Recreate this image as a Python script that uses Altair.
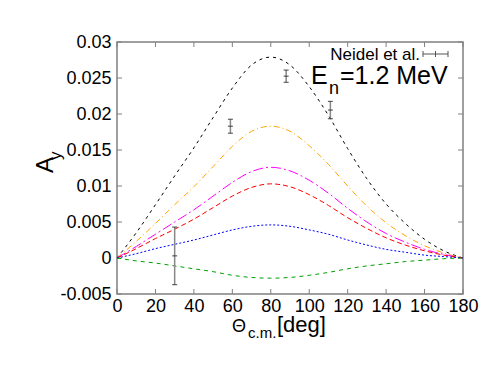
import altair as alt
import pandas as pd

FONT = "Liberation Sans"
FRAME = "#808080"

theta = list(range(0, 181, 10))
black = [0, .0035, .0074, .0114, .0153, .0195, .0236, .0268, .0279, .0268, .0238, .0198, .0152, .0110, .0075, .0048, .0026, .0010, 0]
orange = [0, .0023, .0048, .0074, .0099, .0127, .0155, .0176, .0183, .0176, .0156, .0130, .0100, .0072, .0049, .0031, .0017, .0007, 0]
magenta = [0, .0016, .0033, .0050, .0067, .0086, .0105, .0120, .0126, .0121, .0108, .0090, .0069, .0050, .0034, .0022, .0012, .0005, 0]
red = [0, .0013, .0027, .0040, .0054, .0070, .0086, .0098, .0103, .0099, .0088, .0073, .0056, .0041, .0028, .0018, .0010, .0004, 0]
blue = [0, .0006, .0013, .0019, .0025, .0032, .0039, .0044, .0046, .0044, .0039, .0033, .0025, .0018, .0012, .0008, .0004, .0002, 0]
green = [0, -.0004, -.0007, -.0011, -.0015, -.0019, -.0024, -.0027, -.0028, -.0027, -.0024, -.0020, -.0015, -.0011, -.0008, -.0005, -.0003, -.0001, 0]

exp_theta = [30, 59, 88, 111]
exp_ay = [0.0003, 0.0183, 0.02525, 0.02055]
exp_err = [0.0040, 0.00097, 0.00085, 0.0012]

x_ticks = list(range(0, 181, 20))
y_ticks = [-0.005, 0, 0.005, 0.01, 0.015, 0.02, 0.025, 0.03]

W, H = 346, 252

series = [("black", black, "#000000", [3, 4]),
          ("orange", orange, "#ffa500", [6, 3, 1, 3]),
          ("magenta", magenta, "#ff00ff", [10, 3, 2, 3]),
          ("red", red, "#ff0000", [5, 3]),
          ("blue", blue, "#0000ff", [2, 2]),
          ("green", green, "#00a000", [4, 4])]

rows = []
for name, vals, _, _ in series:
    for t, v in zip(theta, vals):
        rows.append({"theta": t, "ay": v, "model": name})
df = pd.DataFrame(rows)

names = [s[0] for s in series]
colors = [s[2] for s in series]
dashes = [s[3] for s in series]

xscale = alt.Scale(domain=[0, 180], nice=False, zero=False)
yscale = alt.Scale(domain=[-0.005, 0.03], nice=False, zero=False)

xaxis = alt.Axis(values=x_ticks, title=None, tickSize=0, domain=False, grid=False,
                 labelFont=FONT, labelFontSize=18, labelColor="black", labelPadding=3,
                 labelFlush=False)
yaxis = alt.Axis(values=y_ticks, title=None, tickSize=0, domain=False, grid=False,
                 labelFont=FONT, labelFontSize=18, labelColor="black", labelPadding=6,
                 labelExpr="replace(format(datum.value, '~g'), '\u2212', '-')")

lines = alt.Chart(df).mark_line(strokeWidth=1, interpolate="monotone").encode(
    x=alt.X("theta:Q", scale=xscale, axis=xaxis),
    y=alt.Y("ay:Q", scale=yscale, axis=yaxis),
    color=alt.Color("model:N", scale=alt.Scale(domain=names, range=colors), legend=None),
    strokeDash=alt.StrokeDash("model:N", scale=alt.Scale(domain=names, range=dashes), legend=None),
    detail="model:N",
)

exp = pd.DataFrame({"theta": exp_theta, "ay": exp_ay, "err": exp_err})
exp["lo"] = exp["ay"] - exp["err"]
exp["hi"] = exp["ay"] + exp["err"]

bars = alt.Chart(exp).mark_rule(color="#888888", strokeWidth=1.5).encode(
    x=alt.X("theta:Q", scale=xscale, axis=xaxis),
    y=alt.Y("lo:Q", scale=yscale, axis=yaxis),
    y2="hi:Q",
)
caps_df = pd.concat([
    exp[["theta", "lo"]].rename(columns={"lo": "v"}),
    exp[["theta", "hi"]].rename(columns={"hi": "v"}),
    exp[["theta", "ay"]].rename(columns={"ay": "v"}),
])
caps = alt.Chart(caps_df).mark_tick(orient="horizontal", size=5, thickness=1.2, color="#222222").encode(
    x=alt.X("theta:Q", scale=xscale, axis=xaxis),
    y=alt.Y("v:Q", scale=yscale, axis=yaxis),
)

xt = pd.DataFrame({"t": x_ticks})
yt = pd.DataFrame({"v": y_ticks})
tick_b = alt.Chart(xt).mark_rule(color=FRAME, strokeWidth=1).encode(
    x=alt.X("t:Q", scale=xscale, axis=xaxis), y=alt.value(H), y2=alt.value(H - 5))
tick_t = alt.Chart(xt).mark_rule(color=FRAME, strokeWidth=1).encode(
    x=alt.X("t:Q", scale=xscale, axis=xaxis), y=alt.value(0), y2=alt.value(5))
tick_l = alt.Chart(yt).mark_rule(color=FRAME, strokeWidth=1).encode(
    y=alt.Y("v:Q", scale=yscale, axis=yaxis), x=alt.value(0), x2=alt.value(5))
tick_r = alt.Chart(yt).mark_rule(color=FRAME, strokeWidth=1).encode(
    y=alt.Y("v:Q", scale=yscale, axis=yaxis), x=alt.value(W), x2=alt.value(W - 5))

dummy = pd.DataFrame({"a": [0]})


def label(text, x, y, size, align="left", angle=0):
    return alt.Chart(dummy).mark_text(
        text=text, font=FONT, fontSize=size, align=align, baseline="alphabetic",
        color="black").encode(x=alt.value(x), y=alt.value(y), angle=alt.value(angle))


texts = [
    label("\u0398", 115, 290, 18),
    label("c.m.", 131, 296, 15),
    label("[deg]", 160, 290, 22),
    label("A", -64, 131, 24, angle=270),
    label("y", -56, 118, 17, angle=270),
    label("Neidel et al.", 303, 18, 17, align="right"),
    label("E", 194, 42, 25),
    label("n", 212, 52, 18),
    label("=1.2 MeV", 223, 42, 25),
]

leg_line = alt.Chart(dummy).mark_rule(color="#555555", strokeWidth=1).encode(
    x=alt.value(306), x2=alt.value(331), y=alt.value(12))
leg_caps = [alt.Chart(dummy).mark_rule(color="#555555", strokeWidth=1).encode(
    x=alt.value(xx), y=alt.value(9), y2=alt.value(15)) for xx in (306, 318.5, 331)]

chart = alt.layer(
    tick_b, tick_t, tick_l, tick_r, lines, bars, caps, leg_line, *leg_caps, *texts
).properties(
    width=W, height=H,
    autosize=alt.AutoSizeParams(type="none"),
    padding={"left": 109, "top": 34, "right": 20, "bottom": 50},
).configure_view(stroke=FRAME, strokeWidth=1.5)

chart.save("out.html", embed_options={"renderer": "svg", "actions": False})
